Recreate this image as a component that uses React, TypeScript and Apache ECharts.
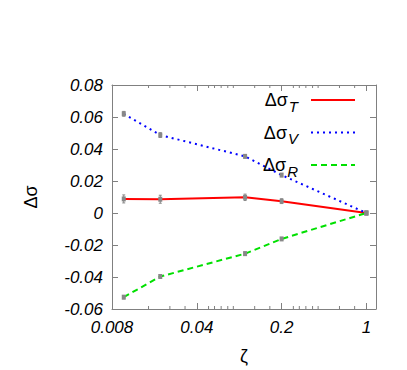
import React, { useEffect, useRef } from "react";
import * as echarts from "echarts";

const zeta = [0.01, 0.02, 0.1, 0.2, 1];
const dSigmaT = [0.0088, 0.0086, 0.0098, 0.0074, 0];
const dSigmaV = [0.062, 0.0487, 0.0354, 0.0237, 0];
const dSigmaR = [-0.0526, -0.0397, -0.0254, -0.0162, 0];
const errT = [0.0025, 0.0025, 0.002, 0.0015, 0.0005];
const errV = [0.0015, 0.0015, 0.001, 0.001, 0.0005];
const errR = [0.001, 0.001, 0.001, 0.0008, 0.0005];
const seriesNames = ["T", "V", "R"];
const xMin = 0.008;
const xMax = 1.2;
const yMin = -0.06;
const yMax = 0.08;
const yStep = 0.02;
const xMinorTicks = [
  0.016, 0.024, 0.032, 0.05, 0.056, 0.0635, 0.072, 0.08, 0.12, 0.16, 0.25,
  0.28, 0.317, 0.36, 0.4, 0.6, 0.8,
];

const AXIS_GRAY = "#808080";
const FONT = "Liberation Sans";

export default function App() {
  const ref = useRef<HTMLDivElement>(null);
  useEffect(() => {
    document.body.style.margin = "0";
    if (!ref.current) return;
    const chart = echarts.init(ref.current, undefined, { renderer: "svg" });

    const toPairs = (ys: number[]) => zeta.map((x, i) => [x, ys[i]]);
    const errRows: number[][] = [];
    [dSigmaT, dSigmaV, dSigmaR].forEach((ys, s) => {
      const es = [errT, errV, errR][s];
      zeta.forEach((x, i) => errRows.push([x, ys[i], es[i]]));
    });

    const labelStyle = {
      fontFamily: FONT,
      fontStyle: "italic" as const,
      fontSize: 17,
      color: "#000",
    };

    const xCommon = {
      type: "log" as const,
      logBase: 5,
      min: xMin,
      max: xMax,
      splitNumber: 3,
      splitLine: { show: false },
      axisLine: { show: true, onZero: false, lineStyle: { color: AXIS_GRAY, width: 1 } },
      axisTick: { show: true, inside: true, length: 6, lineStyle: { color: AXIS_GRAY } },
    };
    const yCommon = {
      type: "value" as const,
      min: yMin,
      max: yMax,
      interval: yStep,
      splitLine: { show: false },
      axisLine: { show: true, onZero: false, lineStyle: { color: AXIS_GRAY, width: 1 } },
      axisTick: { show: true, inside: true, length: 6, lineStyle: { color: AXIS_GRAY } },
    };

    chart.setOption({
      animation: false,
      backgroundColor: "#fff",
      grid: { left: 112, top: 85, right: 31, bottom: 57 },
      xAxis: [
        {
          ...xCommon,
          position: "bottom",
          name: "ζ",
          nameLocation: "middle",
          nameGap: 38,
          nameTextStyle: { fontFamily: FONT, fontSize: 18, color: "#000" },
          axisLabel: {
            ...labelStyle,
            margin: 10,
            showMaxLabel: false,
            formatter: (v: number) => String(+v.toPrecision(3)),
          },
        },
        {
          ...xCommon,
          position: "top",
          axisLabel: { show: false },
        },
      ],
      yAxis: [
        {
          ...yCommon,
          position: "left",
          name: "Δσ",
          nameLocation: "middle",
          nameGap: 72,
          nameRotate: 90,
          nameTextStyle: { fontFamily: FONT, fontSize: 18, color: "#000" },
          axisLabel: {
            ...labelStyle,
            margin: 9,
            formatter: (v: number) => String(+v.toFixed(2)),
          },
        },
        {
          ...yCommon,
          position: "right",
          axisLabel: { show: false },
        },
      ],
      legend: {
        data: seriesNames,
        orient: "vertical",
        right: 51,
        top: 91,
        padding: 0,
        align: "right",
        itemWidth: 44,
        itemHeight: 12,
        itemGap: 10,
        itemStyle: { opacity: 0 },
        formatter: (n: string) => `{a|Δσ}{b|${n}}`,
        textStyle: {
          rich: {
            a: { fontFamily: FONT, fontSize: 18, color: "#000" },
            b: {
              fontFamily: FONT,
              fontSize: 15,
              fontStyle: "italic",
              color: "#000",
              padding: [12, 8, 0, 1],
            },
          },
        },
      },
      series: [
        {
          name: "T",
          type: "line",
          data: toPairs(dSigmaT),
          symbol: "none",
          lineStyle: { color: "#ff0000", width: 2, type: "solid" },
          itemStyle: { color: "#ff0000" },
          z: 3,
        },
        {
          name: "V",
          type: "line",
          data: toPairs(dSigmaV),
          symbol: "none",
          lineStyle: { color: "#0000ff", width: 2, type: [2, 4] },
          itemStyle: { color: "#0000ff" },
          z: 3,
        },
        {
          name: "R",
          type: "line",
          data: toPairs(dSigmaR),
          symbol: "none",
          lineStyle: { color: "#00e000", width: 2, type: [6, 4] },
          itemStyle: { color: "#00e000" },
          z: 3,
        },
        {
          name: "errorbars",
          type: "custom",
          data: errRows,
          encode: { x: 0, y: 1 },
          z: 5,
          silent: true,
          renderItem: (params: any, api: any) => {
            const x = api.value(0);
            const y = api.value(1);
            const e = api.value(2);
            const lo = api.coord([x, y - e]);
            const hi = api.coord([x, y + e]);
            const c = api.coord([x, y]);
            const st = { stroke: "#888", lineWidth: 1 };
            return {
              type: "group",
              children: [
                { type: "line", shape: { x1: lo[0], y1: lo[1], x2: hi[0], y2: hi[1] }, style: st },
                { type: "line", shape: { x1: lo[0] - 1.5, y1: lo[1], x2: lo[0] + 1.5, y2: lo[1] }, style: st },
                { type: "line", shape: { x1: hi[0] - 1.5, y1: hi[1], x2: hi[0] + 1.5, y2: hi[1] }, style: st },
                { type: "rect", shape: { x: c[0] - 2, y: c[1] - 2.5, width: 4, height: 5 }, style: { fill: "#888" } },
              ],
            };
          },
        },
        {
          name: "minorticks",
          type: "custom",
          data: xMinorTicks.map((v) => [v, 0]),
          encode: { x: 0, y: 1 },
          z: 4,
          silent: true,
          renderItem: (params: any, api: any) => {
            const px = api.coord([api.value(0), 0])[0];
            const cs = params.coordSys;
            const st = { stroke: AXIS_GRAY, lineWidth: 1 };
            const b = cs.y + cs.height;
            return {
              type: "group",
              children: [
                { type: "line", shape: { x1: px, y1: b, x2: px, y2: b - 3 }, style: st },
                { type: "line", shape: { x1: px, y1: cs.y, x2: px, y2: cs.y + 3 }, style: st },
              ],
            };
          },
        },
      ],
    });
    return () => chart.dispose();
  }, []);
  return <div ref={ref} style={{ width: 407, height: 370 }} />;
}
